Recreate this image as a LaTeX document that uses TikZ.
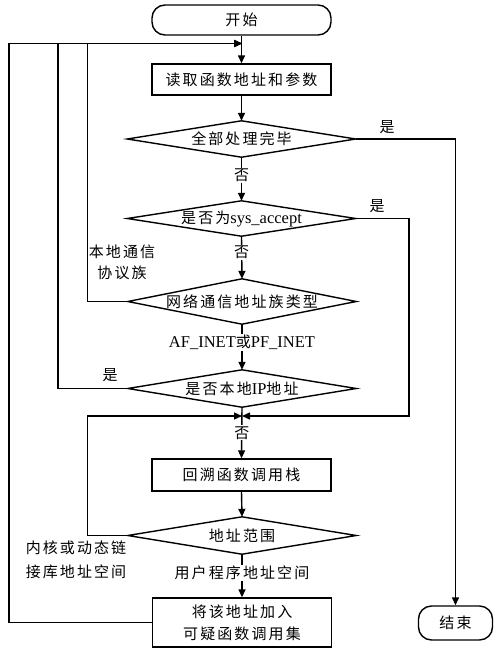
\documentclass[tikz,border=0pt]{standalone}
\usepackage{fontspec}
\setmainfont{Liberation Serif}
\newfontfamily\cjk[LetterSpace=14]{Noto Sans CJK SC}
\usetikzlibrary{arrows.meta,calc}
\newcommand\la[1]{{\rmfamily\fontsize{16.5}{20}\selectfont #1}}
\begin{document}
\begin{tikzpicture}[x=1pt,y=-1pt,
  line/.style={line width=1.4pt},
  arr/.style={line, -{Triangle[length=8pt,width=7pt]}},
  zh/.style={font=\cjk\fontsize{15}{22}\selectfont},
  box/.style={draw, line, zh, minimum width=179pt, inner sep=0pt, align=center},
  term/.style={box, rounded corners=13pt},
  dia/.style={zh, minimum width=228pt, inner sep=0pt, align=center},
  lab/.style={zh, fill=white, inner sep=1pt, align=center}]
\useasboundingbox (0,0) rectangle (493,651);

\node[term, minimum height=30pt] (start) at (241.5,20) {开始};
\node[box, minimum height=31pt] (b1) at (241.5,79.5) {读取函数地址和参数};
\node[dia, minimum height=36pt] (d1) at (241.5,139) {全部处理完毕};
\node[dia, minimum height=35pt] (d2) at (241.5,218.5) {是否为\la{sys\_accept}};
\node[dia, minimum height=45pt] (d3) at (242,301.5) {网络通信地址族类型};
\node[dia, minimum height=37pt] (d4) at (242,388.5) {是否本地\la{IP}地址};
\node[box, minimum height=32pt] (b2) at (241.5,475) {回溯函数调用栈};
\node[dia, minimum height=37pt] (d5) at (242,535.5) {地址范围};
\node[box, minimum height=49pt] (b3) at (242,622.5) {将该地址加入\\可疑函数调用集};
\node[term, minimum width=74pt, minimum height=34pt] (end) at (455.5,623) {结束};

\foreach \n in {d1,d2,d3,d4,d5}
  \draw[line] (\n.west) -- (\n.north) -- (\n.east) -- (\n.south) -- cycle;

\coordinate (m1) at (242,43.5);
\coordinate (m2) at (242,416);
\coordinate (xa) at (9,0);
\coordinate (xb) at (58,0);
\coordinate (xc) at (87.5,0);
\coordinate (xr) at (409,0);

\draw[arr] (start.south) -- (b1.north);
\draw[arr] (b1.south) -- (d1.north);
\draw[arr] (d1.south) -- node[lab, pos=0.42] {否} (d2.north);
\draw[arr] (d2.south) -- node[lab, pos=0.38] {否} (d3.north);
\draw[arr] (d3.south) -- node[lab, pos=0.4] {\la{AF\_INET}或\la{PF\_INET}} (d4.north);
\draw[arr] (d4.south) -- node[lab, pos=0.5] {否} (b2.north);
\draw[arr] (b2.south) -- (d5.north);
\draw[arr] (d5.south) -- node[lab, pos=0.43] {用户程序地址空间} (b3.north);
\draw[arr] (d1.east) -| (end.north);
\draw[arr] (d2.east) -| (xr |- m2) -- (m2);
\draw[arr] (d3.west) -| (xc |- m1) -- (m1);
\draw[arr] (d4.west) -| (xb |- m1) -- (m1);
\draw[arr] (b3.west) -| (xa |- m1) -- (m1);
\draw[arr] (d5.west) -| (xc |- m2) -- (m2);

\node[lab, fill=none] (ly1) at (387,127) {是};
\node[lab, fill=none] (ly2) at (377,206) {是};
\node[lab, fill=none] (ly3) at (110,375) {是};
\node[lab, fill=none, font=\cjk\fontsize{15}{21}\selectfont] (lloc) at (122,262) {本地通信\\协议族};
\node[lab, fill=none, font=\cjk\fontsize{15}{24}\selectfont] (lker) at (76,560) {内核或动态链\\接库地址空间};
\end{tikzpicture}
\end{document}
